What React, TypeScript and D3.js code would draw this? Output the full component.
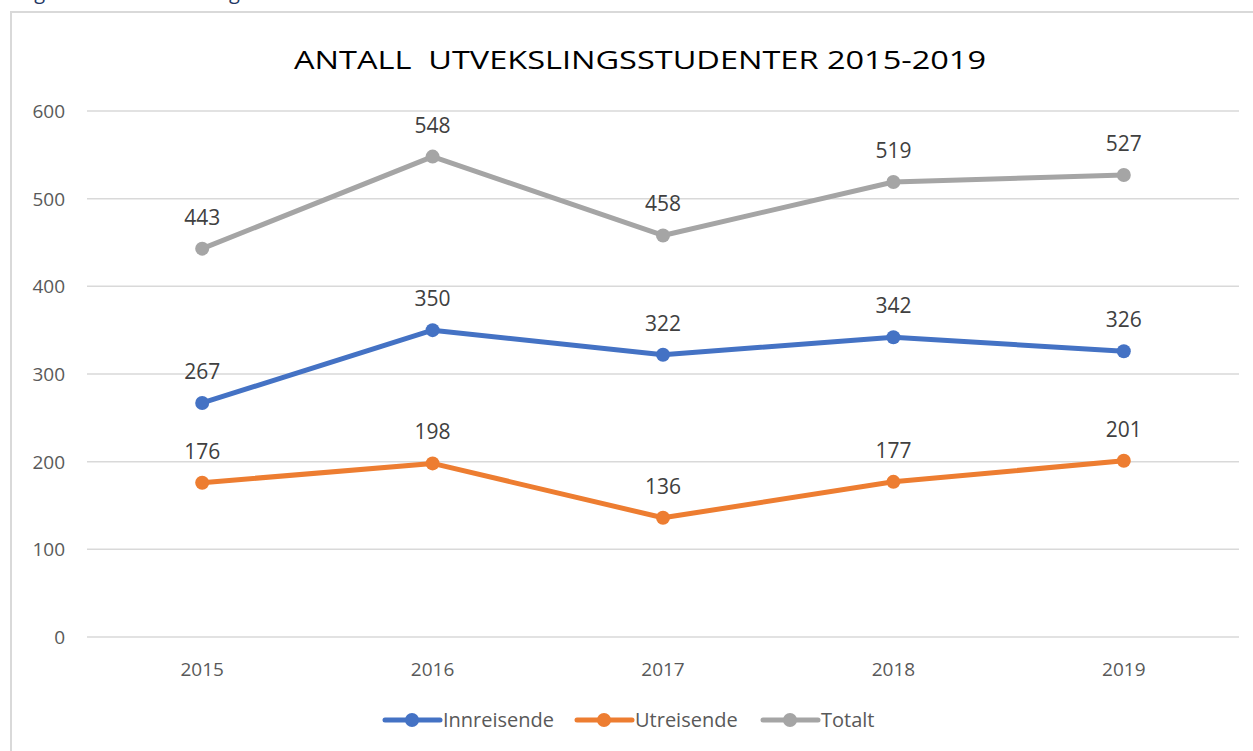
import React, { useEffect, useRef } from "react";
import * as d3 from "d3";

const years = ["2015", "2016", "2017", "2018", "2019"];
const innreisende = [267, 350, 322, 342, 326];
const utreisende = [176, 198, 136, 177, 201];
const totalt = [443, 548, 458, 519, 527];
const yTicks = [0, 100, 200, 300, 400, 500, 600];
const seriesNames = ["Innreisende", "Utreisende", "Totalt"];
const seriesColors = ["#4472C4", "#ED7D31", "#A5A5A5"];
const title = "ANTALL  UTVEKSLINGSSTUDENTER 2015-2019";

const W = 1253;
const H = 751;
const FONT = "Open Sans, Noto Sans, sans-serif";

export default function App() {
  const ref = useRef<SVGSVGElement>(null);

  useEffect(() => {
    const svg = d3.select(ref.current);
    svg.selectAll("*").remove();

    // partial caption above the frame (cut off in reference)
    svg.append("text")
      .attr("x", 19).attr("y", -1)
      .attr("font-family", FONT).attr("font-size", 20)
      .attr("fill", "#1F3864")
      .text("Figur 1 Antall utvekslingsstudenter");

    // chart frame
    svg.append("rect")
      .attr("x", 11).attr("y", 12).attr("width", W + 20).attr("height", H + 20)
      .attr("fill", "#fff").attr("stroke", "#D9D9D9").attr("stroke-width", 2);

    const x = d3.scaleBand().domain(years).range([87, 1239]);
    const y = d3.scaleLinear().domain([0, 600]).range([637, 111]);

    // gridlines
    svg.append("g").selectAll("line").data(yTicks).join("line")
      .attr("x1", 87).attr("x2", 1239)
      .attr("y1", (d) => y(d)).attr("y2", (d) => y(d))
      .attr("stroke", "#D9D9D9").attr("stroke-width", 1.5);

    // y labels
    svg.append("g").selectAll("text").data(yTicks).join("text")
      .attr("x", 65).attr("y", (d) => y(d) + 7)
      .attr("text-anchor", "end")
      .attr("font-family", FONT).attr("font-size", 19)
      .attr("fill", "#595959")
      .text((d) => String(d));

    // x labels
    svg.append("g").selectAll("text").data(years).join("text")
      .attr("x", (d) => (x(d) as number) + x.bandwidth() / 2)
      .attr("y", 676)
      .attr("text-anchor", "middle")
      .attr("font-family", FONT).attr("font-size", 19)
      .attr("fill", "#595959")
      .text((d) => d);

    // title
    svg.append("text")
      .attr("x", 640).attr("y", 69)
      .attr("text-anchor", "middle")
      .attr("font-family", FONT).attr("font-size", 26)
      .attr("fill", "#000")
      .attr("textLength", 692).attr("lengthAdjust", "spacingAndGlyphs")
      .style("white-space", "pre")
      .text(title);

    const allSeries = [innreisende, utreisende, totalt];
    const cx = (i: number) => (x(years[i]) as number) + x.bandwidth() / 2;
    const line = d3.line<number>().x((_, i) => cx(i)).y((d) => y(d));

    allSeries.forEach((vals, s) => {
      const g = svg.append("g");
      g.append("path").attr("d", line(vals) as string)
        .attr("fill", "none").attr("stroke", seriesColors[s])
        .attr("stroke-width", 5).attr("stroke-linejoin", "round").attr("stroke-linecap", "round");
      g.selectAll("circle").data(vals).join("circle")
        .attr("cx", (_, i) => cx(i)).attr("cy", (d) => y(d)).attr("r", 7)
        .attr("fill", seriesColors[s]);
      g.selectAll("text").data(vals).join("text")
        .attr("x", (_, i) => cx(i)).attr("y", (d) => y(d) - 24)
        .attr("text-anchor", "middle")
        .attr("font-family", FONT).attr("font-size", 21)
        .attr("fill", "#404040")
        .text((d) => String(d));
    });

    // legend
    const legendX = [385, 577, 763];
    seriesNames.forEach((name, s) => {
      const lx = legendX[s];
      const g = svg.append("g");
      g.append("line").attr("x1", lx).attr("x2", lx + 55).attr("y1", 720).attr("y2", 720)
        .attr("stroke", seriesColors[s]).attr("stroke-width", 5).attr("stroke-linecap", "round");
      g.append("circle").attr("cx", lx + 27).attr("cy", 720).attr("r", 7).attr("fill", seriesColors[s]);
      g.append("text").attr("x", lx + 58).attr("y", 727)
        .attr("font-family", FONT).attr("font-size", 20).attr("fill", "#595959")
        .text(name);
    });
  }, []);

  return (
    <svg ref={ref} width={W} height={H} style={{ position: "absolute", left: 0, top: 0, display: "block" }} />
  );
}
